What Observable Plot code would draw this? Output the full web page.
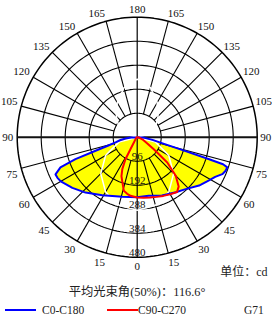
<!DOCTYPE html>
<html>
<head>
<meta charset="utf-8">
<script src="https://cdn.jsdelivr.net/npm/d3@7"></script>
<script src="https://cdn.jsdelivr.net/npm/@observablehq/plot@0.6"></script>
<style>
  html, body { margin: 0; padding: 0; background: #fff; }
  body { width: 272px; height: 317px; overflow: hidden; font-family: "Liberation Serif", "Noto Sans CJK SC", serif; }
  #chart svg { display: block; }
  #cap { height: 22px; line-height: 22px; padding-top: 4px; text-align: center; font-size: 12.3px; color: #222; padding-left: 2px; }
  #legend { position: relative; height: 14px; font-size: 11.5px; color: #222; }
  #legend .ln { position: absolute; top: 6px; height: 2px; width: 31px; }
  #legend .tx { position: absolute; top: 0; line-height: 14px; }
</style>
</head>
<body>
<div id="chart"></div>
<div id="cap">平均光束角(50%)：116.6°</div>
<div id="legend">
  <div class="ln" style="left:5px;background:#0000ff"></div><span class="tx" style="left:42px">C0-C180</span>
  <div class="ln" style="left:107px;background:#ff0000"></div><span class="tx" style="left:138px">C90-C270</span>
  <span class="tx" style="left:244px">G71</span>
</div>
<script>
// ---------- data (cd, gamma angle in degrees measured from nadir) ----------
const ringValues = [96, 192, 288, 384, 480];
const gammaTicks = [0, 15, 30, 45, 60, 75, 90, 105, 120, 135, 150, 165, 180];

// C0 (right) and C180 (left) plane – blue
const c0Angles  = [0, 11, 23, 35, 43, 52, 59, 63, 66.5, 69, 71.5, 72.5, 73, 74, 76, 80, 85, 90];
const c0Values  = [240, 239, 253, 269, 284, 314, 335, 350, 371, 378, 380, 360, 298, 195, 114, 62, 30, 0];
const c180Angles = [0, 14, 31, 43, 52, 60, 63, 65.5, 68.5, 70.5, 72, 74, 76.5, 80, 84, 87, 90];
const c180Values = [240, 245, 271, 303, 329, 353, 358, 359, 330, 262, 175, 120, 89, 70, 47, 25, 0];

// C90 (right) and C270 (left) plane – red
const c90Angles  = [0, 6, 12, 18, 24, 30, 36, 40, 45, 50, 54, 60, 68, 80, 90];
const c90Values  = [241, 244, 247, 251, 257, 264, 271, 258, 218, 157, 82, 40, 22, 8, 0];
const c270Angles = [0, 6.5, 10, 14, 18, 22, 25, 28, 29.5, 32, 40, 60, 90];
const c270Values = [241, 236, 230, 221, 191, 168, 141, 100, 55, 25, 10, 4, 0];

// white reference curves
const whiteLowAngles = [0, 15, 30, 45, 60, 75, 90];
const whiteLowValues = [292, 282, 253, 206, 146, 76, 0];
const whiteUpAngles  = [90, 105, 120, 135, 150, 165, 180];
const whiteUpValues  = [0, 45, 85, 118, 160, 205, 232];

// ---------- geometry helpers ----------
const W = 272, H = 277;
const K = 0.25;            // px per cd
const CX = 136.7, CY = 136.7;
const deg = Math.PI / 180;
const polar = (g, r, side) => ({x: side * r * Math.sin(g * deg), y: -r * Math.cos(g * deg)});

function twoSided(angL, valL, angR, valR) {
  const pts = [];
  for (let i = angL.length - 1; i >= 0; i--) pts.push(polar(angL[i], valL[i], -1));
  for (let i = 0; i < angR.length; i++) pts.push(polar(angR[i], valR[i], 1));
  return pts;
}

const bluePts = twoSided(c180Angles, c180Values, c0Angles, c0Values);
const redPts = twoSided(c270Angles, c270Values, c90Angles, c90Values);
const whiteLowPts = twoSided(whiteLowAngles, whiteLowValues, whiteLowAngles, whiteLowValues);
const whiteUpPts = twoSided(whiteUpAngles, whiteUpValues, whiteUpAngles, whiteUpValues);

const rMax = ringValues[ringValues.length - 1];
const rMin = ringValues[0];
const ringPts = [];
for (const r of ringValues.slice(0, -1)) {
  for (let a = 0; a <= 360; a += 2) ringPts.push({...polar(a, r, 1), ring: r});
}
const outerPts = [];
for (let a = 0; a <= 360; a += 2) outerPts.push(polar(a, rMax, 1));

const spokes = [];
for (const g of gammaTicks) {
  if (g === 0 || g === 90 || g === 180) continue;
  for (const s of [-1, 1]) {
    const a = polar(g, rMin, s), b = polar(g, rMax, s);
    spokes.push({x1: a.x, y1: a.y, x2: b.x, y2: b.y});
  }
}
const vAxis = [{x1: 0, y1: -rMax, x2: 0, y2: rMax}];
const hAxis = [{x1: -rMax, y1: 0, x2: rMax, y2: 0}];

const labelR = 124 / K;
const labels = [];
for (const g of gammaTicks) {
  const sides = (g === 0 || g === 180) ? [0] : [-1, 1];
  for (const s of sides) {
    const p = polar(g, labelR, s === 0 ? 1 : s);
    labels.push({...p, text: String(g), side: s, part: g > 90 ? "up" : g < 90 ? "low" : "mid"});
  }
}
const ringLabels = ringValues.map(v => ({x: 0, y: -v, text: String(v)}));

const font = "'Liberation Serif', 'DejaVu Serif', serif";
const lab = (side, part, anchor, lineAnchor, dy = 0, dx = 0) =>
  Plot.text(labels.filter(d => d.side === side && d.part === part), {
    x: "x", y: "y", text: "text", textAnchor: anchor, lineAnchor, dy, dx,
    fontSize: 11, fontFamily: font, fill: "#111"
  });

const chart = Plot.plot({
  width: W, height: H,
  marginTop: 0, marginBottom: 0, marginLeft: 0, marginRight: 0,
  x: {domain: [-CX / K, (W - CX) / K], range: [0, W], axis: null},
  y: {domain: [-(H - CY) / K, CY / K], range: [H, 0], axis: null},
  style: {fontFamily: font, fontSize: "11px", background: "#fff"},
  marks: [
    Plot.line(bluePts, {x: "x", y: "y", fill: "#ffff00", stroke: "none"}),
    Plot.line(ringPts, {x: "x", y: "y", z: "ring", stroke: "#000", strokeWidth: 1.1}),
    Plot.line(outerPts, {x: "x", y: "y", stroke: "#000", strokeWidth: 1.5}),
    Plot.link(spokes, {x1: "x1", y1: "y1", x2: "x2", y2: "y2", stroke: "#000", strokeWidth: 1.1}),
    Plot.link(vAxis, {x1: "x1", y1: "y1", x2: "x2", y2: "y2", stroke: "#000", strokeWidth: 1.2}),
    Plot.link(hAxis, {x1: "x1", y1: "y1", x2: "x2", y2: "y2", stroke: "#111", strokeWidth: 2}),
    Plot.line(whiteLowPts, {x: "x", y: "y", stroke: "#fff", strokeWidth: 1.5}),
    Plot.line(whiteUpPts, {x: "x", y: "y", stroke: "#fff", strokeWidth: 1.5}),
    Plot.line(bluePts, {x: "x", y: "y", stroke: "#0000ff", strokeWidth: 2}),
    Plot.line(redPts, {x: "x", y: "y", stroke: "#ff0000", strokeWidth: 2}),
    Plot.text(ringLabels, {x: "x", y: "y", text: "text", lineAnchor: "bottom", dy: -1, fontSize: 11, fontFamily: font, fill: "#111"}),
    lab(-1, "up", "end", "bottom"),
    lab(1, "up", "start", "bottom", 0, -1.5),
    lab(-1, "low", "end", "top", 1),
    lab(1, "low", "start", "top", 1, -1),
    lab(-1, "mid", "end", "middle"),
    lab(1, "mid", "start", "middle", 0, -1),
    lab(0, "up", "middle", "bottom"),
    lab(0, "low", "middle", "top", 1),
    Plot.text(["单位：cd"], {frameAnchor: "bottom-right", text: d => d, dx: -5, dy: -2, fontSize: 12, fontFamily: "'Liberation Serif', 'Noto Sans CJK SC', serif", fill: "#222"})
  ]
});
document.getElementById("chart").appendChild(chart);
</script>
</body>
</html>
